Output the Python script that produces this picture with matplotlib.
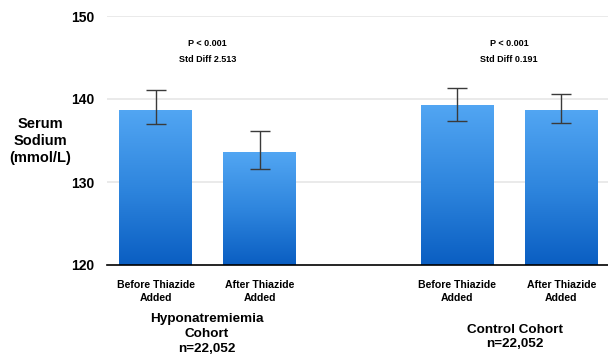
import numpy as np
import matplotlib
matplotlib.use("Agg")
import matplotlib.pyplot as plt
from matplotlib.colors import LinearSegmentedColormap

plt.rcParams['font.family'] = ['Liberation Sans', 'DejaVu Sans']

# ── data ──────────────────────────────────────────────────────────────────────
bar_labels = ["Before Thiazide\nAdded", "After Thiazide\nAdded",
              "Before Thiazide\nAdded", "After Thiazide\nAdded"]
sodium     = [138.7, 133.6, 139.3, 138.7]
err_low    = [1.7, 2.0, 2.0, 1.6]
err_high   = [2.4, 2.5, 2.0, 1.9]
positions  = [0, 1, 2.9, 3.9]
group_labels = ["Hyponatremiemia\nCohort\nn=22,052", "Control Cohort\nn=22,052"]
group_stats  = ["P < 0.001\nStd Diff 2.513", "P < 0.001\nStd Diff 0.191"]
yticks = [120, 130, 140, 150]

# ── figure ────────────────────────────────────────────────────────────────────
fig = plt.figure(figsize=(6.08, 3.58), dpi=100)
ax = fig.add_axes([107/608, 1 - 265/358, 501/608, (265 - 16)/358])

for y in yticks[1:]:
    ax.axhline(y, color="#e6e6e6", lw=1.2, zorder=0)

cmap = LinearSegmentedColormap.from_list("blu", ["#0a5ec2", "#2f86de", "#52a6f3"])
grad = np.linspace(0, 1, 256).reshape(-1, 1)
width = 0.7
bars = ax.bar(positions, [v - 120 for v in sodium], bottom=120, width=width,
              color="none", edgecolor="none", zorder=2)
for b in bars:
    x0, y0 = b.get_x(), b.get_y()
    im = ax.imshow(grad, cmap=cmap, aspect="auto", origin="lower",
                   extent=[x0, x0 + b.get_width(), y0, y0 + b.get_height()],
                   zorder=2)
    im.set_clip_path(b)

ax.errorbar(positions, sodium, yerr=[err_low, err_high], fmt="none",
            ecolor="#3a3a3a", elinewidth=1.0, capsize=7, capthick=1.0, zorder=3)

ax.set_xlim(-0.47, 4.35)
ax.set_ylim(120, 150)

for s in ["top", "right", "left"]:
    ax.spines[s].set_visible(False)
ax.spines["bottom"].set_color("black")
ax.spines["bottom"].set_linewidth(1.2)

ax.set_yticks(yticks)
ax.set_yticklabels([str(t) for t in yticks], fontsize=10, fontweight="bold")
ax.tick_params(axis="y", length=0, pad=9)
ax.set_xticks(positions)
ax.set_xticklabels(bar_labels, fontsize=7.6, fontweight="bold", linespacing=1.35)
ax.tick_params(axis="x", length=0, pad=11)

fig.text(40/608, 1 - 141/358, "Serum\nSodium\n(mmol/L)", ha="center", va="center",
         fontsize=10.5, fontweight="bold", linespacing=1.25)

ax.text(0.5, 145.7, group_stats[0], ha="center", va="center", fontsize=6.5,
        fontweight="bold", linespacing=2.0)
ax.text(3.4, 145.7, group_stats[1], ha="center", va="center", fontsize=6.5,
        fontweight="bold", linespacing=2.0)

fig.text(207/608, 1 - 334/358, group_labels[0], ha="center", va="center",
         fontsize=9.7, fontweight="bold", linespacing=1.3)
fig.text(515/608, 1 - 337/358, group_labels[1], ha="center", va="center",
         fontsize=9.7, fontweight="bold", linespacing=1.3)

fig.savefig("out.png", dpi=100)
